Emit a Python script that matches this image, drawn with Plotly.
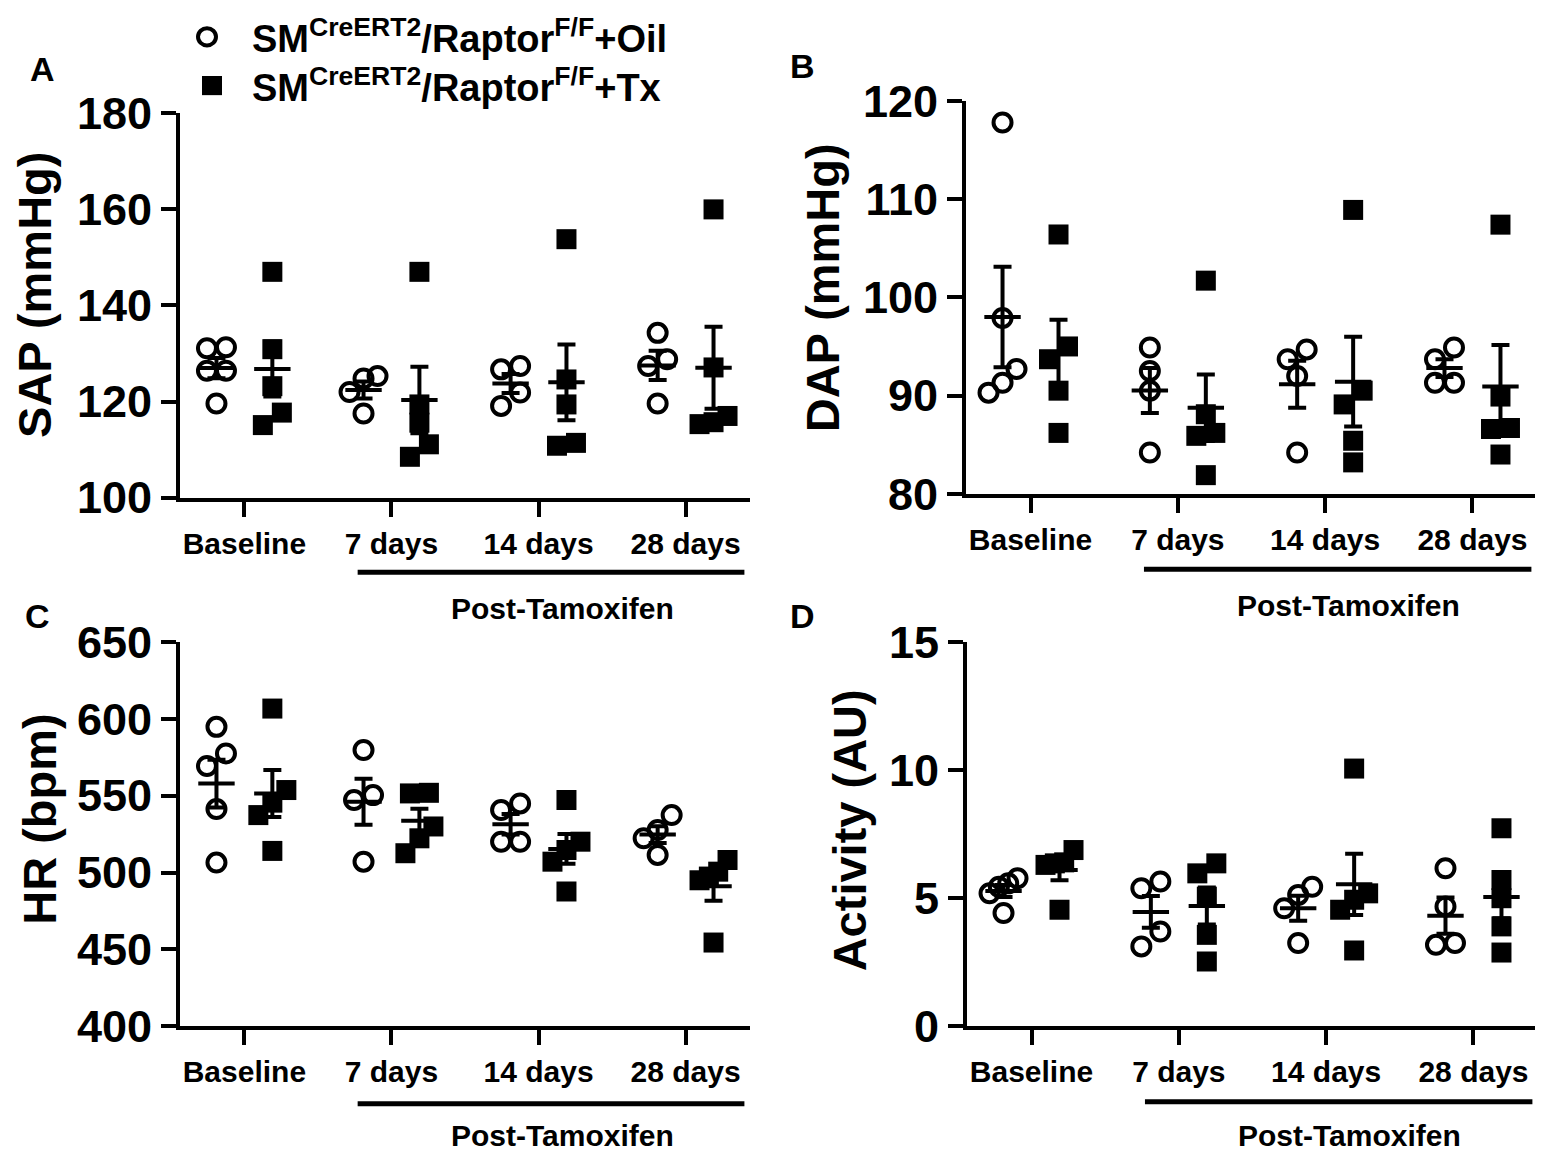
import numpy as np
import plotly.graph_objects as go

W, H = 1543, 1160
FONT = "Liberation Sans, Arial, Helvetica, sans-serif"

# ---------------- data ----------------
categories = ["Baseline", "7 days", "14 days", "28 days"]

sap_oil = [[131.3, 131.1, 126.4, 126.4, 119.6], [125.3, 124.8, 122.0, 117.5],
           [126.7, 127.4, 121.9, 119.1], [134.3, 128.8, 127.4, 119.6]]
sap_tx = [[147.0, 130.9, 123.2, 117.7, 115.1], [147.0, 119.4, 115.6, 111.1, 108.5],
          [153.8, 124.6, 119.4, 110.8, 111.4], [160.0, 127.1, 117.0, 115.7, 115.3]]

dap_oil = [[117.8, 97.9, 92.7, 91.3, 90.3], [94.9, 92.5, 90.5, 84.2],
           [93.7, 94.7, 92.0, 84.2], [94.9, 93.7, 91.3, 91.3]]
dap_tx = [[106.4, 95.0, 93.7, 90.5, 86.2], [101.7, 88.1, 86.2, 85.9, 81.9],
          [108.9, 90.5, 89.1, 85.4, 83.2], [107.4, 89.9, 86.7, 86.6, 84.0]]

hr_oil = [[594.8, 577.5, 569.3, 541.3, 506.5], [579.7, 550.4, 547.2, 507.1],
          [540.7, 545.0, 520.1, 520.1], [537.4, 527.7, 522.3, 511.5]]
hr_tx = [[606.7, 553.7, 545.5, 537.4, 514.1], [551.5, 551.9, 530.0, 522.3, 512.6],
         [547.2, 520.1, 514.7, 507.1, 487.7], [508.2, 500.6, 497.4, 495.0, 454.5]]

act_oil = [[5.58, 5.78, 5.45, 5.19, 4.42], [5.39, 5.65, 3.70, 3.12],
           [5.13, 5.45, 4.61, 3.25], [6.17, 4.68, 3.18, 3.25]]
act_tx = [[6.88, 6.40, 6.30, 6.36, 4.55], [6.36, 5.97, 5.06, 3.57, 2.53],
          [10.06, 5.19, 4.94, 4.55, 2.96], [7.73, 5.71, 5.00, 3.90, 2.88]]

y_titles = ["SAP (mmHg)", "DAP (mmHg)", "HR (bpm)", "Activity (AU)"]
panel_letters = ["A", "B", "C", "D"]
y_ranges = [[100, 180], [80, 120], [400, 650], [0, 15]]
y_dticks = [20, 10, 50, 5]
group_names = ["SM<sup>CreERT2</sup>/Raptor<sup>F/F</sup>+Oil",
               "SM<sup>CreERT2</sup>/Raptor<sup>F/F</sup>+Tx"]
post_label = "Post-Tamoxifen"

# ---------------- layout (pixels) ----------------
# x0, x1, ytop, ybottom of each plot area
boxes = [(172, 742, 84, 486), (958, 1529, 71, 482),
         (172, 742, 637, 1039), (959, 1530, 637, 1039)]
XR = [-0.438, 3.438]
GOFF = 0.19          # group offset (x units)
MS_C, MS_S = 18, 20  # marker sizes
SPREAD_PX = 19

title_pos = [(27, 274), (814, 266), (32, 823), (841, 834)]
letter_pos = [(34, 38), (794, 34), (30, 610), (794, 610)]
post_line_y = [564, 561, 1120, 1118]
post_text_y = [602, 599, 1153, 1153]


def px(x):
    return x / W


def py(y):
    return 1 - y / H


def spread(vals, ppu_y, ppu_x):
    """horizontal offsets (x units) for overlapping points"""
    vals = np.asarray(vals, float)
    order = np.argsort(vals)
    offs = np.zeros(len(vals))
    clusters = [[order[0]]]
    for a, b in zip(order[:-1], order[1:]):
        if (vals[b] - vals[a]) * ppu_y < 17:
            clusters[-1].append(b)
        else:
            clusters.append([b])
    for c in clusters:
        k = len(c)
        if k > 1:
            sp = min(SPREAD_PX, 28 / (k - 1))
            for i, idx in enumerate(c):
                offs[idx] = (i - (k - 1) / 2) * sp / ppu_x
    return offs


fig = go.Figure()
datasets = [(sap_oil, sap_tx), (dap_oil, dap_tx), (hr_oil, hr_tx), (act_oil, act_tx)]
annotations = []
shapes = []
layout_axes = {}

for p, (oil, tx) in enumerate(datasets):
    x0, x1, yt, yb = boxes[p]
    ax = "" if p == 0 else str(p + 1)
    xa, ya = "x" + ax, "y" + ax
    ppu_y = (yb - yt) / (y_ranges[p][1] - y_ranges[p][0])
    ppu_x = (x1 - x0) / (XR[1] - XR[0])
    for g, (series, sym, size, goff) in enumerate([(oil, "circle-open", MS_C, -GOFF),
                                                   (tx, "square", MS_S, GOFF)]):
        xs, ys, mx, mean, sem = [], [], [], [], []
        for i, vals in enumerate(series):
            offs = spread(vals, ppu_y, ppu_x)
            xs += list(i + goff + offs)
            ys += list(vals)
            v = np.asarray(vals)
            mx.append(i + goff)
            mean.append(v.mean())
            sem.append(v.std(ddof=1) / np.sqrt(len(v)))
        fig.add_trace(go.Scatter(
            x=xs, y=ys, mode="markers", xaxis=xa, yaxis=ya, showlegend=False,
            marker=dict(symbol=sym, size=size, color="black",
                        line=dict(color="black", width=4 if g == 0 else 0)),
            cliponaxis=False))
        fig.add_trace(go.Scatter(
            x=mx, y=mean, mode="markers", xaxis=xa, yaxis=ya, showlegend=False,
            marker=dict(symbol="line-ew", size=26, color="black",
                        line=dict(color="black", width=4)),
            error_y=dict(type="data", array=sem, visible=True, color="black",
                         thickness=4, width=9),
            cliponaxis=False))

    common = dict(showgrid=False, zeroline=False, showline=True, linecolor="black",
                  linewidth=4, ticks="outside", ticklen=15, tickwidth=4,
                  tickcolor="black")
    layout_axes["xaxis" + ax] = dict(
        common, domain=[px(x0), px(x1)], range=XR, anchor=ya,
        tickvals=[0, 1, 2, 3], ticktext=categories,
        tickfont=dict(family=FONT, size=30, color="black", weight="bold"),
        ticklabelstandoff=1)
    layout_axes["yaxis" + ax] = dict(
        common, domain=[py(yb), py(yt)], range=y_ranges[p], anchor=xa,
        dtick=y_dticks[p], tick0=y_ranges[p][0],
        tickfont=dict(family=FONT, size=45, color="black", weight="bold"))

    # y-axis title
    tx_, ty_ = title_pos[p]
    annotations.append(dict(x=px(tx_), y=py(ty_), xref="paper", yref="paper",
                            text=y_titles[p], textangle=-90, showarrow=False,
                            xanchor="center", yanchor="middle",
                            font=dict(family=FONT, size=47, color="black", weight="bold")))
    # panel letter
    lx, ly = letter_pos[p]
    annotations.append(dict(x=px(lx), y=py(ly), xref="paper", yref="paper",
                            text=panel_letters[p], showarrow=False,
                            xanchor="center", yanchor="middle",
                            font=dict(family=FONT, size=34, color="black", weight="bold")))
    # Post-Tamoxifen bracket line and label
    shapes.append(dict(type="line", xref=xa, yref="paper", x0=0.77, x1=3.40,
                       y0=py(post_line_y[p]), y1=py(post_line_y[p]),
                       line=dict(color="black", width=5)))
    annotations.append(dict(x=2.16, y=py(post_text_y[p]), xref=xa, yref="paper",
                            text=post_label, showarrow=False,
                            xanchor="center", yanchor="middle",
                            font=dict(family=FONT, size=30, color="black", weight="bold")))

# legend (symbols + labels)
SYM_Y = [4, 55]
TXT_Y = [3, 54]
shapes.append(dict(type="circle", xref="paper", yref="paper",
                   x0=px(199 - 9), x1=px(199 + 9), y0=py(SYM_Y[0] + 9), y1=py(SYM_Y[0] - 9),
                   line=dict(color="black", width=4)))
shapes.append(dict(type="rect", xref="paper", yref="paper",
                   x0=px(204 - 10), x1=px(204 + 10), y0=py(SYM_Y[1] + 10), y1=py(SYM_Y[1] - 10),
                   fillcolor="black", line=dict(width=0)))
for name, yy in zip(group_names, TXT_Y):
    annotations.append(dict(x=px(242), y=py(yy), xref="paper", yref="paper",
                            text=name, showarrow=False, xanchor="left", yanchor="middle",
                            font=dict(family=FONT, size=38, color="black", weight="bold")))

fig.update_layout(
    width=W, height=H, margin=dict(l=0, r=0, t=0, b=0),
    paper_bgcolor="white", plot_bgcolor="white",
    annotations=annotations, shapes=shapes, **layout_axes)

fig.write_html("out.html")
